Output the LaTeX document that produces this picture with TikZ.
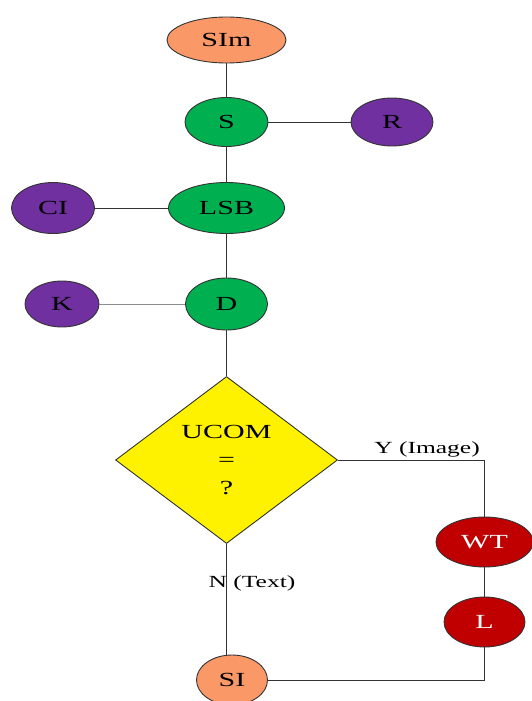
\documentclass[tikz,border=0pt]{standalone}
\usepackage{fontspec}
\setmainfont[FakeStretch=1.5]{Liberation Serif}
\usetikzlibrary{shapes.geometric,positioning}
\definecolor{salmon}{RGB}{250,152,104}
\definecolor{leaf}{RGB}{0,176,80}
\definecolor{grape}{RGB}{112,48,160}
\definecolor{brick}{RGB}{192,0,0}

\begin{document}
\begin{tikzpicture}[x=1pt,y=-1pt,
    blob/.style={draw=black!80,line width=0.9pt,ellipse,inner sep=0pt,font=\fontsize{20}{24}\selectfont},
    tag/.style={font=\fontsize{17}{20}\selectfont},
    wire/.style={line width=0.8pt,draw=black!80}]
  \useasboundingbox (0,0) rectangle (531,701);
  \node[blob,fill=salmon,minimum width=119,minimum height=46](sim) at (226.5,40) {SIm};
  \node[blob,fill=leaf,minimum width=83,minimum height=49](s) at (226.5,122) {S};
  \node[blob,fill=grape,minimum width=82,minimum height=48](r) at (392,122) {R};
  \node[blob,fill=leaf,minimum width=116,minimum height=51](lsb) at (226.5,208) {LSB};
  \node[blob,fill=grape,minimum width=83,minimum height=51](ci) at (53,208) {CI};
  \node[blob,fill=leaf,minimum width=82,minimum height=52](d) at (226.5,304) {D};
  \node[blob,fill=grape,minimum width=74,minimum height=46](k) at (62,304) {K};
  \node[draw=black!80,line width=0.9pt,diamond,fill=yellow,inner sep=0pt,minimum width=222,minimum height=167,
    align=center,font=\fontsize{20}{28}\selectfont](ucom) at (226.5,460) {UCOM\\=\\?};
  \node[blob,fill=brick,text=white,minimum width=97,minimum height=50](wt) at (484.5,542) {WT};
  \node[blob,fill=brick,text=white,minimum width=81,minimum height=50](l) at (484.5,622) {L};
  \node[blob,fill=salmon,minimum width=71,minimum height=50](si) at (232,680) {SI};
  \node[tag](yes) at (427,449) {Y (Image)};
  \node[tag](no) at (252,583) {N (Text)};
  \draw[wire] (sim) -- (s);
  \draw[wire] (s) -- (r);
  \draw[wire] (s) -- (lsb);
  \draw[wire] (ci) -- (lsb);
  \draw[wire] (lsb) -- (d);
  \draw[wire,draw=black!45] (k) -- (d);
  \draw[wire] (d) -- (ucom);
  \draw[wire] (ucom.east) -| (wt.north);
  \draw[wire] (wt) -- (l);
  \draw[wire] (l.south) |- (si.east);
  \draw[wire] (ucom.south) -- (ucom.south |- si.north);
\end{tikzpicture}
\end{document}
